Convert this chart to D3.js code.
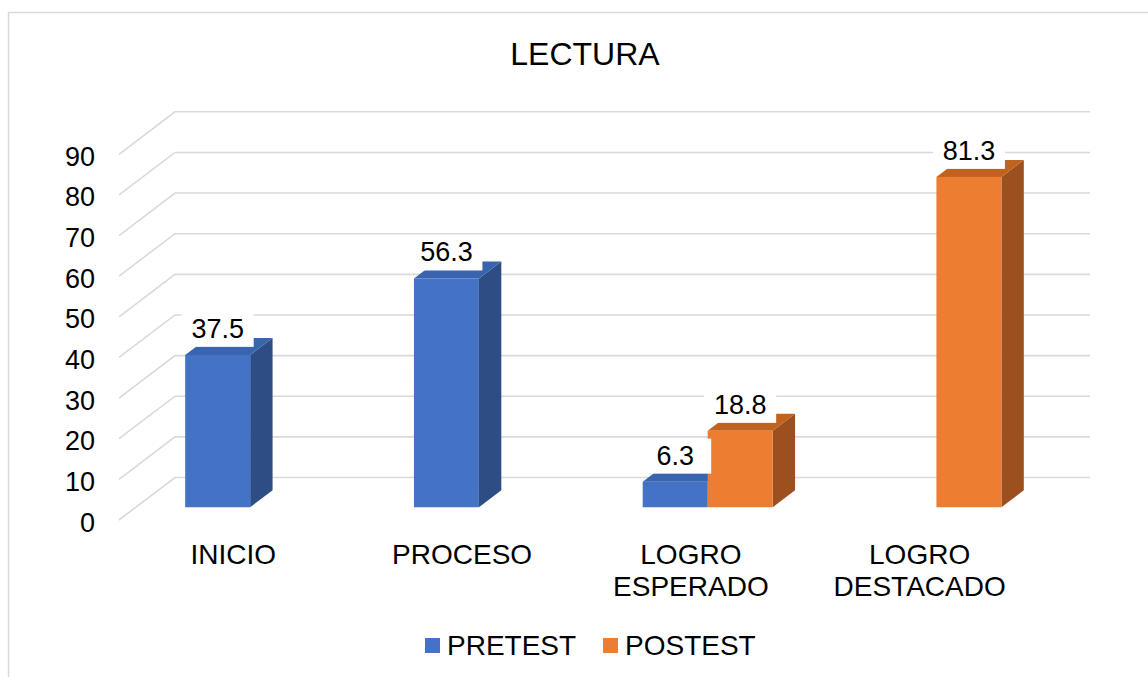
<!DOCTYPE html>
<html>
<head>
<meta charset="utf-8">
<script src="https://cdn.jsdelivr.net/npm/d3@7"></script>
<style>
    body { margin: 0; background: #fff; }
    text { font-family: "Liberation Sans", Arial, sans-serif; fill: #000; }
</style>
</head>
<body>
<div id="chart"></div>
<script>
const categories = [['INICIO'], ['PROCESO'], ['LOGRO', 'ESPERADO'], ['LOGRO', 'DESTACADO']]
const seriesNames = ['PRETEST', 'POSTEST']
const pretest = [37.5, 56.3, 6.3, null]
const postest = [null, null, 18.8, 81.3]
const yTicks = [0, 10, 20, 30, 40, 50, 60, 70, 80, 90]

const width = 1148
const height = 677
const colors = {
    PRETEST: { front: '#4472C4', side: '#2E4D85', top: '#3864B0' },
    POSTEST: { front: '#ED7D31', side: '#9C5020', top: '#C2621F' }
}
// depth of the floor, front edge to back wall
const depth = { dx: 56, dy: -42.5 }
const barFront = 0.3
const barBack = 0.7

const svg = d3.select('#chart').append('svg')
    .attr('width', width).attr('height', height)

svg.append('rect')
    .attr('x', 8.5).attr('y', 12.5)
    .attr('width', 1200).attr('height', 700)
    .attr('fill', 'none').attr('stroke', '#d9d9d9').attr('stroke-width', 1.5)

const x0 = d3.scaleBand()
    .domain(d3.range(categories.length))
    .range([119, 1034])
const x1 = d3.scaleBand()
    .domain(seriesNames)
    .range([0, x0.bandwidth()])
    .paddingOuter(0.76)
const y = d3.scaleLinear().domain([0, 90]).range([520, 154.3])

// gridlines: side wall diagonal + back wall
svg.append('g').selectAll('path')
    .data(yTicks)
    .join('path')
    .attr('d', d => {
        const yf = y(d)
        return `M119,${yf}L${119 + depth.dx},${yf + depth.dy}L1090,${yf + depth.dy}`
    })
    .attr('fill', 'none').attr('stroke', '#d9d9d9').attr('stroke-width', 1.6)

svg.append('g').selectAll('text')
    .data(yTicks)
    .join('text')
    .attr('x', 95).attr('y', d => y(d) + 11.5)
    .attr('text-anchor', 'end')
    .style('font-size', '27px')
    .text(d => d)

let bars = []
categories.forEach((c, i) => {
    const vals = [pretest[i], postest[i]]
    seriesNames.forEach((s, j) => {
        if (vals[j] == null) return
        bars.push({ cat: i, series: s, value: vals[j] })
    })
})

const bx = d => x0(d.cat) + x1(d.series) + depth.dx * barFront
const by = d => y(d.value) + depth.dy * barFront
const bottom = y(0) + depth.dy * barFront
const bw = x1.bandwidth()
const ddx = depth.dx * (barBack - barFront)
const ddy = depth.dy * (barBack - barFront)

const barG = svg.append('g').selectAll('g')
    .data(bars)
    .join('g')

barG.append('path')
    .attr('d', d => {
        const r = bx(d) + bw
        return `M${r},${by(d)}L${r + ddx},${by(d) + ddy}L${r + ddx},${bottom + ddy}L${r},${bottom}Z`
    })
    .attr('fill', d => colors[d.series].side)
barG.append('path')
    .attr('d', d => {
        const l = bx(d), t = by(d)
        return `M${l},${t}L${l + ddx},${t + ddy}L${l + bw + ddx},${t + ddy}L${l + bw},${t}Z`
    })
    .attr('fill', d => colors[d.series].top)
barG.append('rect')
    .attr('x', bx).attr('y', by)
    .attr('width', bw).attr('height', d => bottom - by(d))
    .attr('fill', d => colors[d.series].front)

const labelG = svg.append('g').selectAll('g')
    .data(bars)
    .join('g')
    .attr('transform', d => `translate(${bx(d) + bw / 2},${by(d) + ddy})`)
labelG.append('rect')
    .attr('x', -36).attr('y', -26)
    .attr('width', 72).attr('height', 35)
    .attr('fill', '#fff')
labelG.append('text')
    .attr('text-anchor', 'middle')
    .style('font-size', '27px')
    .text(d => d.value)

svg.append('g').selectAll('text')
    .data(categories)
    .join('text')
    .attr('text-anchor', 'middle')
    .attr('x', (d, i) => x0(i) + x0.bandwidth() / 2)
    .attr('y', 564)
    .style('font-size', '28px')
    .selectAll('tspan')
    .data(d => d)
    .join('tspan')
    .attr('x', function() { return this.parentNode.getAttribute('x') })
    .attr('dy', (d, i) => i == 0 ? 0 : 31.5)
    .text(d => d)

svg.append('text')
    .attr('x', 585).attr('y', 65)
    .attr('text-anchor', 'middle')
    .style('font-size', '32px')
    .text('LECTURA')

const legendX = [425, 603]
const legend = svg.append('g').selectAll('g')
    .data(seriesNames)
    .join('g')
    .attr('transform', (d, i) => `translate(${legendX[i]},638)`)
legend.append('rect')
    .attr('width', 15).attr('height', 15)
    .attr('fill', d => colors[d].front)
legend.append('text')
    .attr('x', 22).attr('y', 17)
    .style('font-size', '28px')
    .text(d => d)
</script>
</body>
</html>
